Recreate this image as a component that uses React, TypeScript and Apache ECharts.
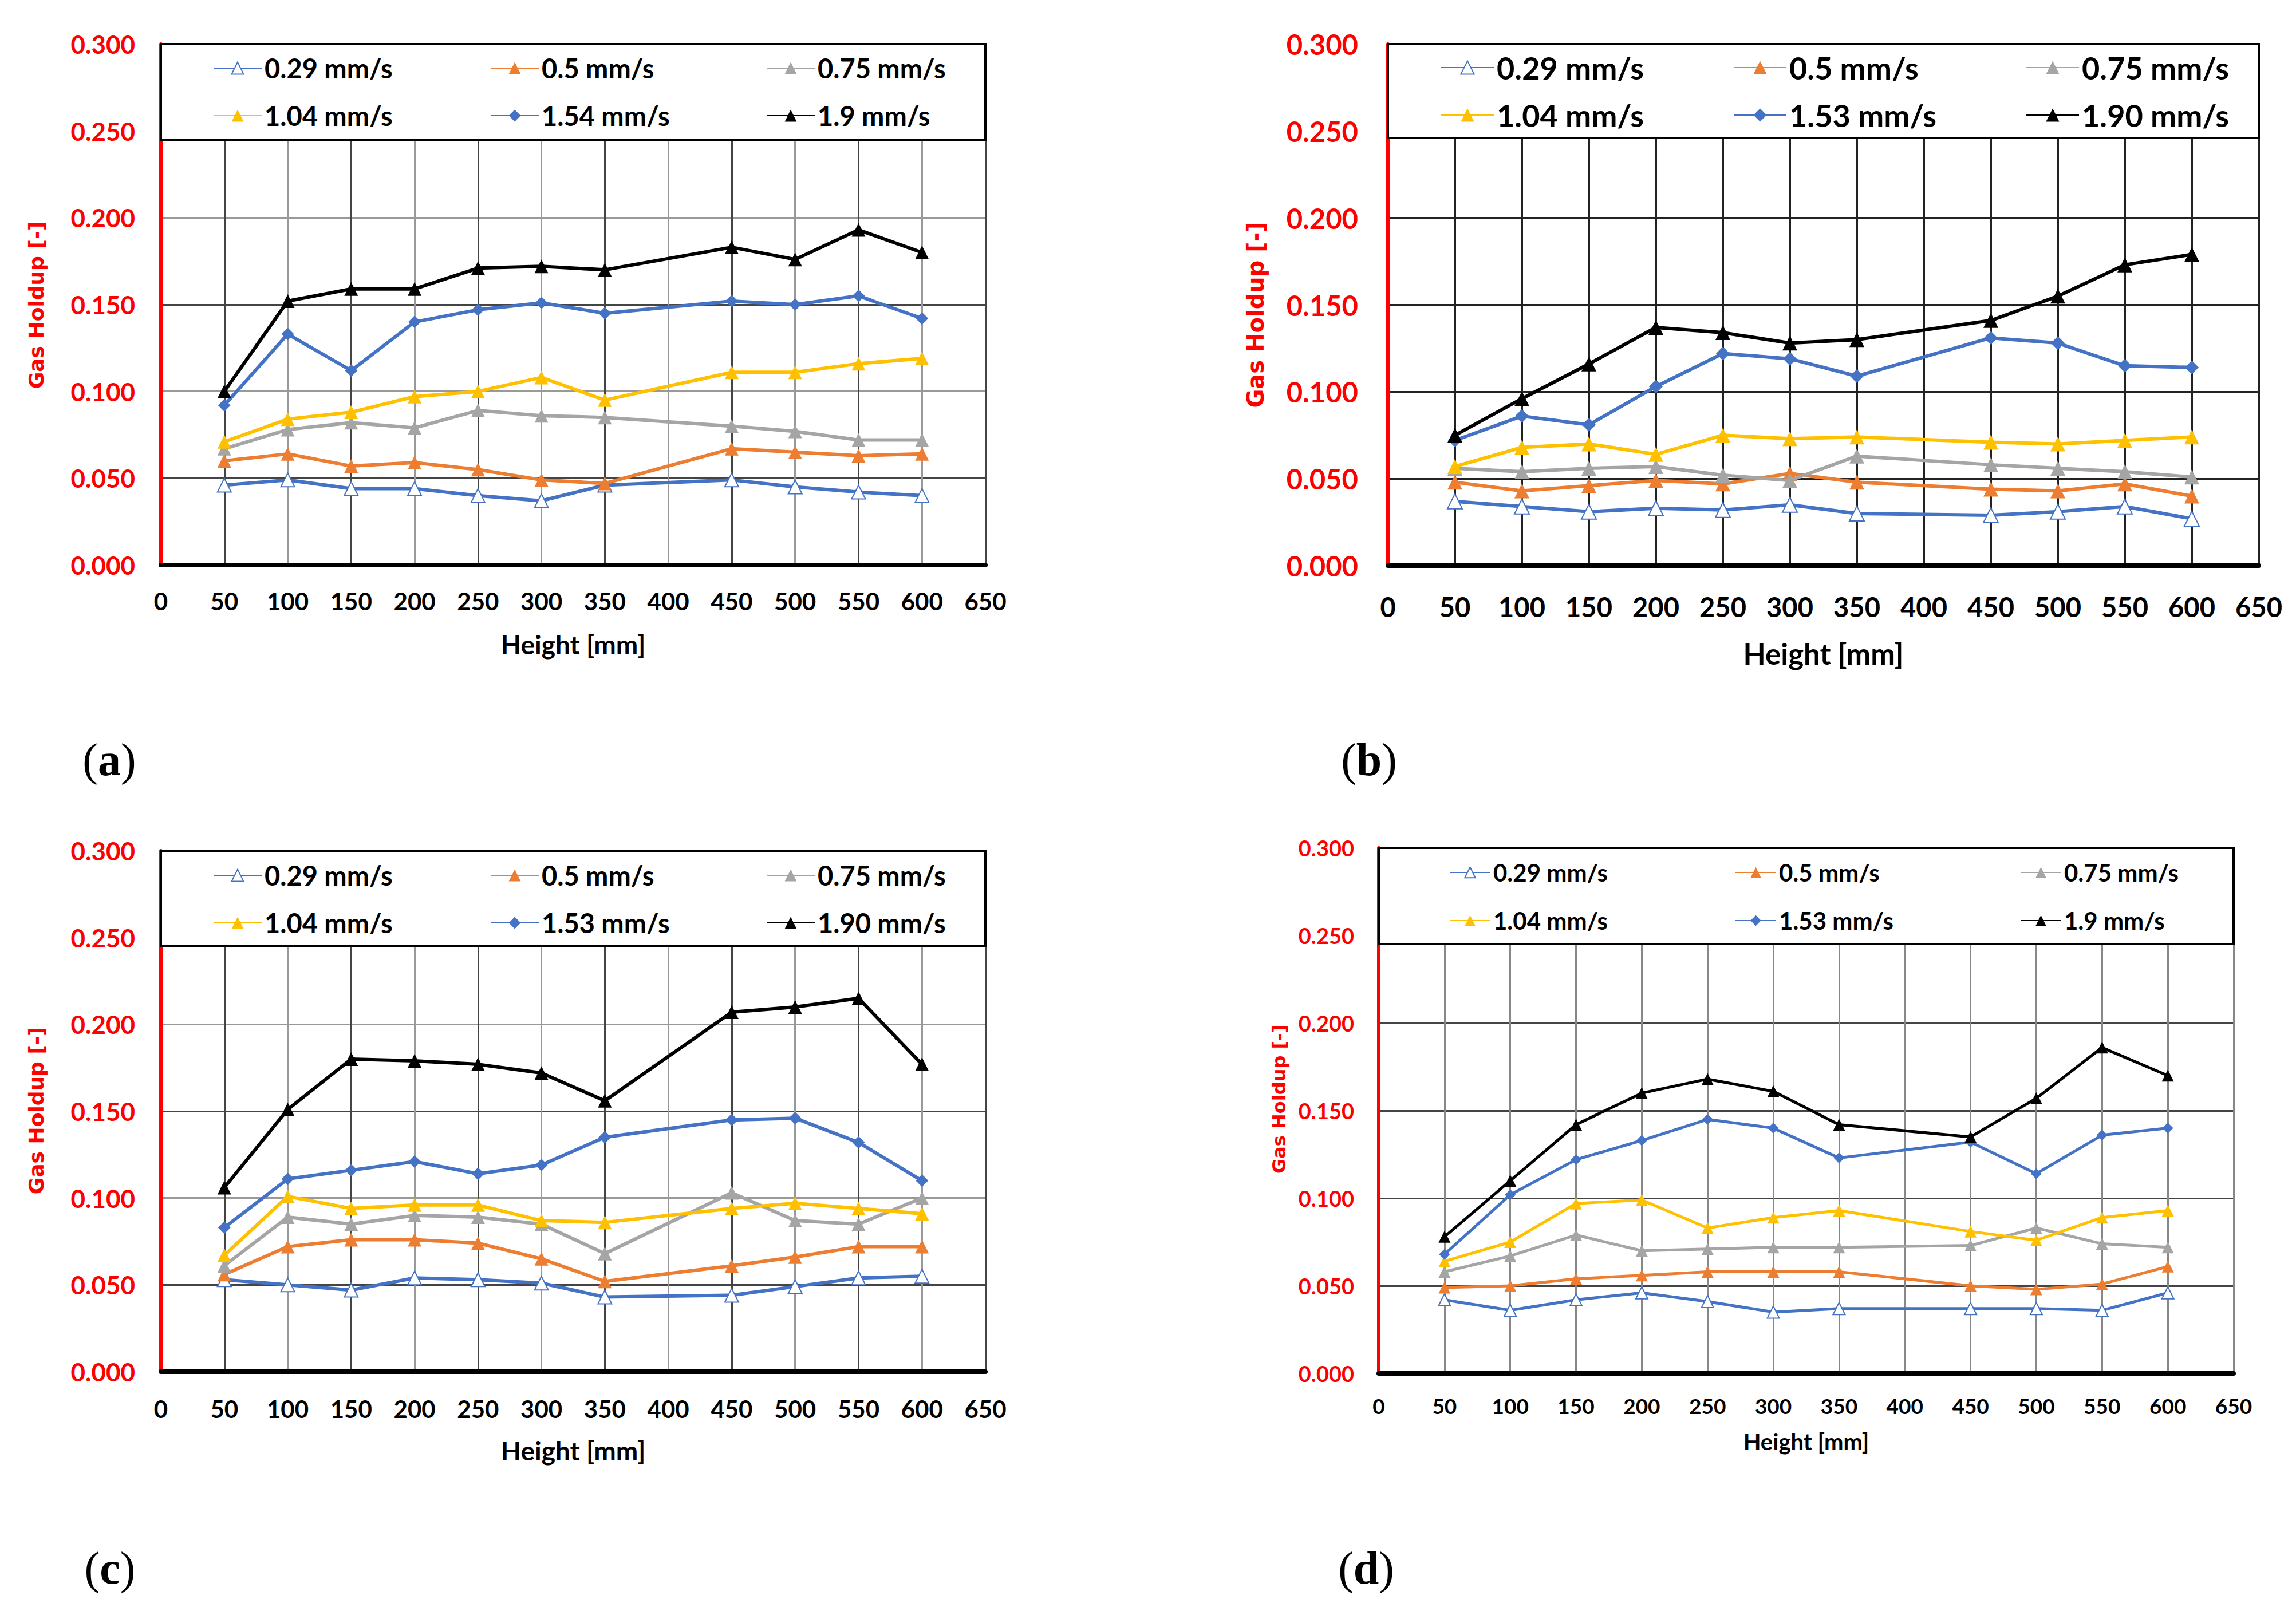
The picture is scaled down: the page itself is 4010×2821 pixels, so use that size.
import React, { useEffect, useRef } from "react";
import * as echarts from "echarts";

// ---------- data ----------
const heights = [50, 100, 150, 200, 250, 300, 350, 450, 500, 550, 600];

const namesA = ["0.29 mm/s", "0.5 mm/s", "0.75 mm/s", "1.04 mm/s", "1.54 mm/s", "1.9 mm/s"];
const namesB = ["0.29 mm/s", "0.5 mm/s", "0.75 mm/s", "1.04 mm/s", "1.53 mm/s", "1.90 mm/s"];
const namesC = ["0.29 mm/s", "0.5 mm/s", "0.75 mm/s", "1.04 mm/s", "1.53 mm/s", "1.90 mm/s"];
const namesD = ["0.29 mm/s", "0.5 mm/s", "0.75 mm/s", "1.04 mm/s", "1.53 mm/s", "1.9 mm/s"];

const a029 = [0.046, 0.049, 0.044, 0.044, 0.040, 0.037, 0.046, 0.049, 0.045, 0.042, 0.040];
const a05 = [0.060, 0.064, 0.057, 0.059, 0.055, 0.049, 0.047, 0.067, 0.065, 0.063, 0.064];
const a075 = [0.067, 0.078, 0.082, 0.079, 0.089, 0.086, 0.085, 0.080, 0.077, 0.072, 0.072];
const a104 = [0.071, 0.084, 0.088, 0.097, 0.100, 0.108, 0.095, 0.111, 0.111, 0.116, 0.119];
const a154 = [0.092, 0.133, 0.112, 0.140, 0.147, 0.151, 0.145, 0.152, 0.150, 0.155, 0.142];
const a19 = [0.100, 0.152, 0.159, 0.159, 0.171, 0.172, 0.170, 0.183, 0.176, 0.193, 0.180];

const b029 = [0.037, 0.034, 0.031, 0.033, 0.032, 0.035, 0.030, 0.029, 0.031, 0.034, 0.027];
const b05 = [0.048, 0.043, 0.046, 0.049, 0.047, 0.053, 0.048, 0.044, 0.043, 0.047, 0.040];
const b075 = [0.056, 0.054, 0.056, 0.057, 0.052, 0.049, 0.063, 0.058, 0.056, 0.054, 0.051];
const b104 = [0.057, 0.068, 0.070, 0.064, 0.075, 0.073, 0.074, 0.071, 0.070, 0.072, 0.074];
const b153 = [0.072, 0.086, 0.081, 0.103, 0.122, 0.119, 0.109, 0.131, 0.128, 0.115, 0.114];
const b190 = [0.075, 0.096, 0.116, 0.137, 0.134, 0.128, 0.130, 0.141, 0.155, 0.173, 0.179];

const c029 = [0.053, 0.050, 0.047, 0.054, 0.053, 0.051, 0.043, 0.044, 0.049, 0.054, 0.055];
const c05 = [0.056, 0.072, 0.076, 0.076, 0.074, 0.065, 0.052, 0.061, 0.066, 0.072, 0.072];
const c075 = [0.061, 0.089, 0.085, 0.090, 0.089, 0.085, 0.068, 0.103, 0.087, 0.085, 0.100];
const c104 = [0.067, 0.101, 0.094, 0.096, 0.096, 0.087, 0.086, 0.094, 0.097, 0.094, 0.091];
const c153 = [0.083, 0.111, 0.116, 0.121, 0.114, 0.119, 0.135, 0.145, 0.146, 0.132, 0.110];
const c190 = [0.106, 0.151, 0.180, 0.179, 0.177, 0.172, 0.156, 0.207, 0.210, 0.215, 0.177];

const d029 = [0.042, 0.036, 0.042, 0.046, 0.041, 0.035, 0.037, 0.037, 0.037, 0.036, 0.046];
const d05 = [0.049, 0.050, 0.054, 0.056, 0.058, 0.058, 0.058, 0.050, 0.048, 0.051, 0.061];
const d075 = [0.058, 0.067, 0.079, 0.070, 0.071, 0.072, 0.072, 0.073, 0.083, 0.074, 0.072];
const d104 = [0.064, 0.075, 0.097, 0.099, 0.083, 0.089, 0.093, 0.081, 0.076, 0.089, 0.093];
const d153 = [0.068, 0.102, 0.122, 0.133, 0.145, 0.140, 0.123, 0.132, 0.114, 0.136, 0.140];
const d19 = [0.078, 0.110, 0.142, 0.160, 0.168, 0.161, 0.142, 0.135, 0.157, 0.186, 0.170];

const panelNames = [namesA, namesB, namesC, namesD];
const panelValues = [
  [a029, a05, a075, a104, a154, a19],
  [b029, b05, b075, b104, b153, b190],
  [c029, c05, c075, c104, c153, c190],
  [d029, d05, d075, d104, d153, d19],
];
const panelLetters = ["a", "b", "c", "d"];
const xTitle = "Height [mm]";
const yTitle = "Gas Holdup [-]";

// ---------- styles / layout ----------
const colors = ["#4472C4", "#ED7D31", "#A5A5A5", "#FFC000", "#4472C4", "#000000"];
const symbols = ["emptyTriangle", "triangle", "triangle", "triangle", "diamond", "triangle"];

const layout = [
  { l: 281, t: 77, r: 1721, b: 987, yFs: 44, xFs: 42, xMargin: 42, yMargin: 45, lgFs: 47, lgW: 84, lgH: 26,
    cols: [372, 856, 1338], rows: [119, 202], boxB: 244, ytFs: 36, ytX: 63, ytY: 533, xtFs: 46, xtY: 1125,
    lbl: [191, 1327], lw: 6, sym: 24, xGrid: ["#999", "#444"], yGrid: ["#999", "#444"] },
  { l: 2424, t: 77, r: 3945, b: 988, yFs: 49, xFs: 47, xMargin: 48, yMargin: 52, lgFs: 54, lgW: 92, lgH: 29,
    cols: [2516, 3027, 3538], rows: [118, 201], boxB: 241, ytFs: 40, ytX: 2193, ytY: 550, xtFs: 51, xtY: 1141,
    lbl: [2391, 1327], lw: 6, sym: 26, xGrid: "#222", yGrid: "#222" },
  { l: 281, t: 1486, r: 1721, b: 2396, yFs: 44, xFs: 42, xMargin: 44, yMargin: 45, lgFs: 47, lgW: 84, lgH: 26,
    cols: [372, 856, 1338], rows: [1529, 1612], boxB: 1653, ytFs: 36, ytX: 63, ytY: 1940, xtFs: 46, xtY: 2533,
    lbl: [192, 2739], lw: 6, sym: 24, xGrid: ["#999", "#444"], yGrid: ["#999", "#444"] },
  { l: 2408, t: 1481, r: 3901, b: 2399, yFs: 38, xFs: 37, xMargin: 38, yMargin: 43, lgFs: 42, lgW: 71, lgH: 23,
    cols: [2531, 3030, 3528], rows: [1524, 1608], boxB: 1649, ytFs: 32, ytX: 2234, ytY: 1920, xtFs: 40, xtY: 2518,
    lbl: [2386, 2739], lw: 5, sym: 21, xGrid: "#888", yGrid: "#444" },
];

function buildOption() {
  const grid: any[] = [];
  const xAxis: any[] = [];
  const yAxis: any[] = [];
  const series: any[] = [];
  const legend: any[] = [];
  const graphic: any[] = [];

  layout.forEach((p, pi) => {
    grid.push({ left: p.l, top: p.t, width: p.r - p.l, height: p.b - p.t, containLabel: false });
    xAxis.push({
      type: "value", gridIndex: pi, min: 0, max: 650, interval: 50,
      axisLine: { show: true, onZero: false, lineStyle: { color: "#000", width: 8 } },
      axisTick: { show: false },
      axisLabel: { color: "#000", fontSize: p.xFs, fontFamily: "Lato", fontWeight: "bold", margin: p.xMargin },
      splitLine: { show: true, lineStyle: { color: p.xGrid, width: 3 } },
    });
    yAxis.push({
      type: "value", gridIndex: pi, min: 0, max: 0.3, interval: 0.05,
      axisLine: { show: true, lineStyle: { color: "#FF0000", width: 6 } },
      axisTick: { show: false },
      axisLabel: { color: "#FF0000", fontSize: p.yFs, fontFamily: "Lato", fontWeight: "bold", margin: p.yMargin,
        formatter: (v: number) => v.toFixed(3) },
      splitLine: { show: true, lineStyle: { color: p.yGrid, width: 3 } },
    });
    const names = panelNames[pi];
    panelValues[pi].forEach((vals, si) => {
      series.push({
        type: "line", name: names[si], xAxisIndex: pi, yAxisIndex: pi,
        data: heights.map((h, i) => [h, vals[i]]),
        symbol: symbols[si], symbolSize: symbols[si] === "diamond" ? p.sym - 2 : p.sym, showSymbol: true,
        lineStyle: { color: colors[si], width: p.lw },
        itemStyle: { color: colors[si] },
        z: 2 + si * 0.01,
      });
      const col = si % 3;
      const row = Math.floor(si / 3);
      legend.push({
        data: [names[si]], left: p.cols[col], top: p.rows[row] - p.lgFs / 2,
        padding: 0, itemWidth: p.lgW, itemHeight: p.lgH, selectedMode: false,
        textStyle: { color: "#000", fontSize: p.lgFs, fontFamily: "Lato", fontWeight: "bold", lineHeight: p.lgFs },
      });
    });
    graphic.push({
      type: "rect", z: 3,
      shape: { x: p.l, y: p.t, width: p.r - p.l, height: p.boxB - p.t },
      style: { fill: "#fff", stroke: "#000", lineWidth: 4 },
    });
    graphic.push({
      type: "text", z: 5, x: p.ytX, y: p.ytY, rotation: Math.PI / 2,
      style: { text: yTitle, fill: "#FF0000", fontSize: p.ytFs, fontWeight: "bold", fontFamily: "DejaVu Sans",
        align: "center", verticalAlign: "middle" },
    });
    graphic.push({
      type: "text", z: 5, x: (p.l + p.r) / 2, y: p.xtY,
      style: { text: xTitle, fill: "#000", fontSize: p.xtFs, fontWeight: "bold", fontFamily: "Lato",
        align: "center", verticalAlign: "middle" },
    });
    graphic.push({
      type: "text", z: 5, x: p.lbl[0], y: p.lbl[1],
      style: {
        text: "{p|(}{b|" + panelLetters[pi] + "}{p|)}",
        align: "center", verticalAlign: "middle",
        rich: {
          p: { fontFamily: "Liberation Serif", fontSize: 80, fill: "#000", color: "#000" },
          b: { fontFamily: "Liberation Serif", fontSize: 80, fontWeight: "bold", fill: "#000", color: "#000" },
        },
      },
    });
  });

  return {
    animation: false,
    backgroundColor: "#ffffff",
    grid, xAxis, yAxis, series, legend, graphic,
  };
}

export default function App() {
  const ref = useRef<HTMLDivElement>(null);
  useEffect(() => {
    if (!ref.current) return;
    const chart = echarts.init(ref.current, undefined, { renderer: "svg" });
    chart.setOption(buildOption() as any);
    return () => chart.dispose();
  }, []);
  return (
    <div
      ref={ref}
      style={{ position: "absolute", left: 0, top: 0, width: 4010, height: 2821, background: "#fff" }}
    />
  );
}
